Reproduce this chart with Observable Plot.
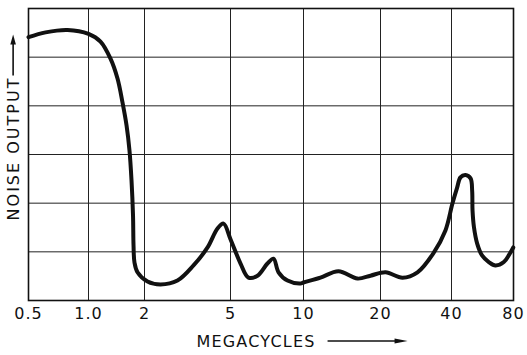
<!DOCTYPE html>
<html><head><meta charset="utf-8">
<script src="https://cdn.jsdelivr.net/npm/d3@7"></script>
<script src="https://cdn.jsdelivr.net/npm/@observablehq/plot@0.6"></script>
<style>body{margin:0;background:#fff}</style>
</head><body><div id="chart"></div>
<script>
// Frequency (megacycles) along the curve
const freqMc = [0.5, 0.609, 0.785, 1.0, 1.16, 1.313, 1.432, 1.523, 1.601, 1.661, 1.703, 1.735, 1.746, 1.767, 1.834,
  2.065, 2.372, 2.842, 3.371, 3.915, 4.354, 4.642, 5.0, 5.5, 5.93, 6.46, 7.1, 7.52, 7.89, 8.59, 9.72,
  10, 11.65, 13.7, 16.26, 18.28, 21.0, 24.8, 28.7, 33.5, 37.7, 40.4, 42.6, 44.2, 46.8, 49.5, 50.4, 50.6,
  51.4, 53.3, 56.4, 60.7, 65.4, 71.8, 77.4, 79.8];
// Relative noise output (grid divisions)
const noiseOutput = [5.41, 5.51, 5.56, 5.48, 5.32, 4.97, 4.56, 4.07, 3.60, 3.08, 2.47, 1.75, 1.13, 0.78, 0.58,
  0.39, 0.33, 0.41, 0.72, 1.09, 1.48, 1.58, 1.26, 0.76, 0.47, 0.51, 0.76, 0.86, 0.58, 0.41, 0.35,
  0.37, 0.47, 0.60, 0.45, 0.51, 0.58, 0.47, 0.58, 0.97, 1.44, 1.99, 2.32, 2.53, 2.58, 2.51, 2.25, 1.85,
  1.51, 1.17, 0.92, 0.79, 0.72, 0.79, 0.99, 1.09];
const xTicks = [0.5, 1, 2, 5, 10, 20, 40, 80];
const xTickLabels = ["0.5", "1.0", "2", "5", "10", "20", "40", "80"];
const yGrid = [1, 2, 3, 4, 5];
const xLabel = "MEGACYCLES";
const yLabel = "NOISE OUTPUT";

const data = freqMc.map((f, i) => ({f, n: noiseOutput[i]}));

const chart = Plot.plot({
  width: 527, height: 355,
  marginLeft: 28, marginRight: 14, marginTop: 8, marginBottom: 55,
  style: {fontFamily: "DejaVu Sans", fontSize: "16px", background: "#fff", color: "#111"},
  x: {type: "log", domain: xTicks, range: [28, 88, 144, 230, 303, 380, 451, 513], axis: null},
  y: {domain: [0, 6], axis: null},
  marks: [
    Plot.ruleX(xTicks, {stroke: "#222", strokeWidth: 1}),
    Plot.ruleY(yGrid, {stroke: "#222", strokeWidth: 1}),
    Plot.frame({stroke: "#111", strokeWidth: 1.6}),
    Plot.line(data, {x: "f", y: "n", curve: "catmull-rom", stroke: "#111", strokeWidth: 4, strokeLinejoin: "round"}),
    Plot.text(xTicks, {x: d => d, text: (d, i) => xTickLabels[i], frameAnchor: "bottom", dy: 18, fill: "#111", fontSize: 16, textAnchor: "middle"}),
    Plot.text([xLabel], {text: d => d, frameAnchor: "bottom", dx: -15, dy: 46, fill: "#111", fontSize: 16, textAnchor: "middle"}),
    Plot.text([yLabel], {text: d => d, frameAnchor: "left", rotate: -90, dx: -15, dy: -6, fill: "#111", fontSize: 16, textAnchor: "middle"})
  ]
});
document.getElementById("chart").appendChild(chart);

// letter spacing on labels and arrows after them
const svg = d3.select(chart.tagName === "svg" ? chart : chart.querySelector("svg"));
svg.selectAll("text").each(function() {
  const t = d3.select(this);
  if (t.text() === xLabel) t.style("letter-spacing", "1.2px");
  if (t.text() === yLabel) t.style("letter-spacing", "2px");
  if (xTickLabels.includes(t.text())) t.style("letter-spacing", "1px");
});
const sRect = svg.node().getBoundingClientRect();
svg.selectAll("text").each(function() {
  const t = d3.select(this);
  const r = this.getBoundingClientRect();
  if (t.text() === xLabel) {
    const y0 = (r.top + r.bottom) / 2 - sRect.top;
    const x0 = r.right - sRect.left + 12;
    const x1 = x0 + 80;
    svg.append("line").attr("x1", x0).attr("x2", x1 - 8).attr("y1", y0).attr("y2", y0)
      .attr("stroke", "#111").attr("stroke-width", 1.6);
    svg.append("path").attr("d", `M${x1},${y0}L${x1 - 13},${y0 - 2.6}L${x1 - 13},${y0 + 2.6}Z`).attr("fill", "#111");
  }
  if (t.text() === yLabel) {
    const x0 = (r.left + r.right) / 2 - sRect.left;
    const y0 = r.top - sRect.top - 1;
    const y1 = y0 - 41;
    svg.append("line").attr("x1", x0).attr("x2", x0).attr("y1", y0).attr("y2", y1 + 6)
      .attr("stroke", "#111").attr("stroke-width", 1.6);
    svg.append("path").attr("d", `M${x0},${y1}L${x0 - 2.8},${y1 + 10}L${x0 + 2.8},${y1 + 10}Z`).attr("fill", "#111");
  }
});
</script>
</body></html>
